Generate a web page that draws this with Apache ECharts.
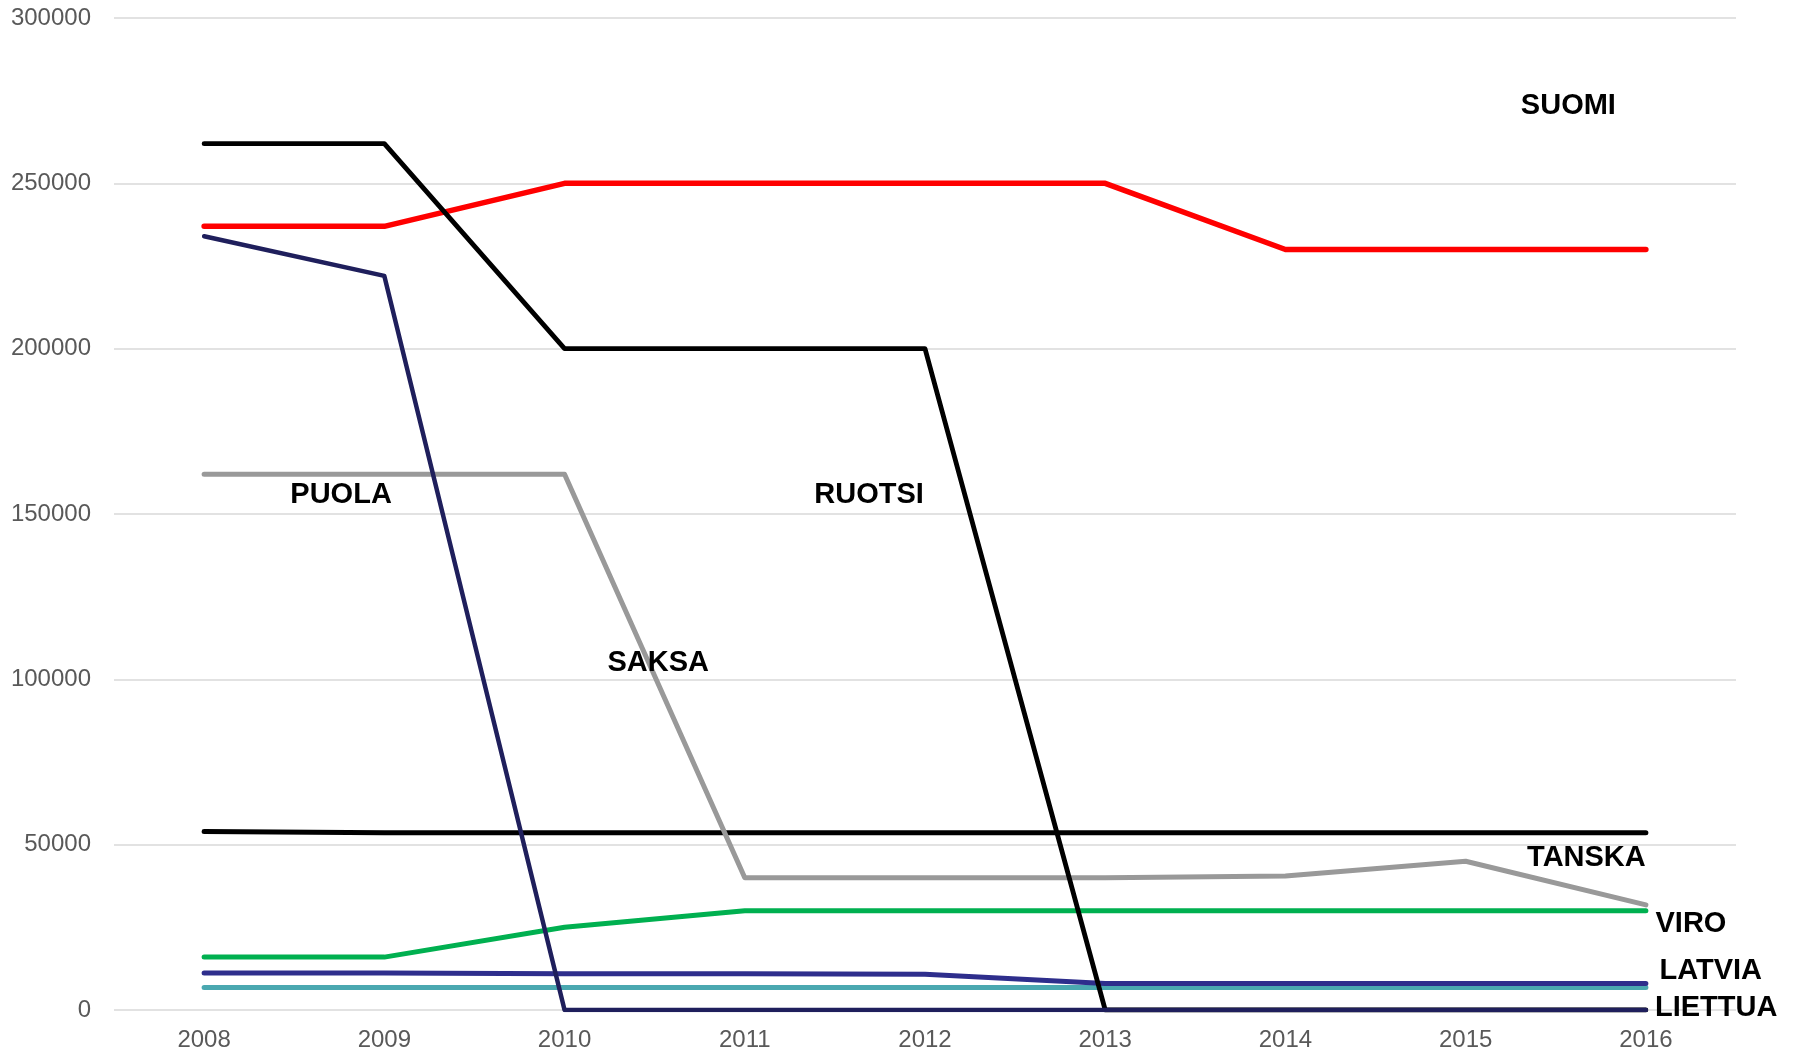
<!DOCTYPE html>
<html>
<head>
<meta charset="utf-8">
<title>Chart</title>
<script src="https://cdn.jsdelivr.net/npm/echarts@6/dist/echarts.min.js"></script>
<style>
  html, body { margin: 0; padding: 0; background: #fff; }
  #chart { width: 1793px; height: 1052px; }
</style>
</head>
<body>
<div id="chart"></div>
<script>
// vuodet (x-akseli)
var years = [2008, 2009, 2010, 2011, 2012, 2013, 2014, 2015, 2016]
var yTicks = [0, 50000, 100000, 150000, 200000, 250000, 300000]

// sarjat
var liettua = [6800, 6800, 6800, 6800, 6800, 6800, 6800, 6800, 6800]
var latvia = [11200, 11200, 11000, 11000, 10800, 8000, 8000, 8000, 8000]
var viro = [16000, 16000, 25000, 30000, 30000, 30000, 30000, 30000, 30000]
var tanska = [54000, 53600, 53600, 53600, 53600, 53600, 53600, 53600, 53600]
var saksa = [162000, 162000, 162000, 40000, 40000, 40000, 40500, 45000, 31800]
var suomi = [237000, 237000, 250000, 250000, 250000, 250000, 230000, 230000, 230000]
var ruotsi = [262000, 262000, 200000, 200000, 200000, 0, 0, 0, 0]
var puola = [234000, 222000, 0, 0, 0, 0, 0, 0, 0]

// nimilappujen paikat (data-koordinaateissa)
var labelPos = {
  SUOMI: [2015.57, 273500],
  RUOTSI: [2011.69, 155800],
  PUOLA: [2008.76, 155800],
  SAKSA: [2010.52, 104800],
  TANSKA: [2015.67, 46000],
  VIRO: [2016.25, 26000],
  LATVIA: [2016.36, 11900],
  LIETTUA: [2016.39, 600]
}

var chart = echarts.init(document.getElementById('chart'))

function makeSeries(name, values, color, width) {
  return {
    name: name,
    type: 'line',
    data: years.map(function (y, i) { return [y, values[i]] }),
    showSymbol: false,
    symbol: 'none',
    lineStyle: { color: color, width: width, cap: 'round', join: 'round' },
    itemStyle: { color: color },
    markPoint: {
      symbol: 'circle',
      symbolSize: 0,
      silent: true,
      z: 10,
      label: {
        show: true,
        position: 'inside',
        formatter: name,
        color: '#000',
        fontWeight: 'bold',
        fontSize: 29,
        fontFamily: 'Liberation Sans, Arial, sans-serif'
      },
      data: [{ coord: labelPos[name] }]
    }
  }
}

chart.setOption({
  animation: false,
  backgroundColor: '#fff',
  grid: {
    left: 114,
    right: 57,
    top: 18,
    bottom: 40,
    containLabel: false
  },
  xAxis: {
    type: 'value',
    min: 2007.5,
    max: 2016.5,
    axisLine: { show: false },
    axisTick: { show: false },
    splitLine: { show: false },
    axisLabel: {
      customValues: years,
      margin: 18,
      fontSize: 24,
      color: '#595959',
      fontFamily: 'Liberation Sans, Arial, sans-serif',
      formatter: function (v) { return String(v) }
    }
  },
  yAxis: {
    type: 'value',
    min: yTicks[0],
    max: yTicks[yTicks.length - 1],
    interval: 50000,
    axisLine: { show: false },
    axisTick: { show: false },
    splitLine: { lineStyle: { color: '#d9d9d9', width: 1.5 } },
    axisLabel: {
      margin: 23,
      fontSize: 24,
      color: '#595959',
      fontFamily: 'Liberation Sans, Arial, sans-serif',
      formatter: function (v) { return String(v) }
    }
  },
  series: [
    makeSeries('LIETTUA', liettua, '#4aa8b0', 5),
    makeSeries('LATVIA', latvia, '#2e2e8c', 5),
    makeSeries('VIRO', viro, '#00b050', 5),
    makeSeries('TANSKA', tanska, '#000000', 5),
    makeSeries('SAKSA', saksa, '#999999', 5),
    makeSeries('SUOMI', suomi, '#ff0000', 5.5),
    makeSeries('RUOTSI', ruotsi, '#000000', 4.8),
    makeSeries('PUOLA', puola, '#1f1f5c', 4.5)
  ]
})
</script>
</body>
</html>
